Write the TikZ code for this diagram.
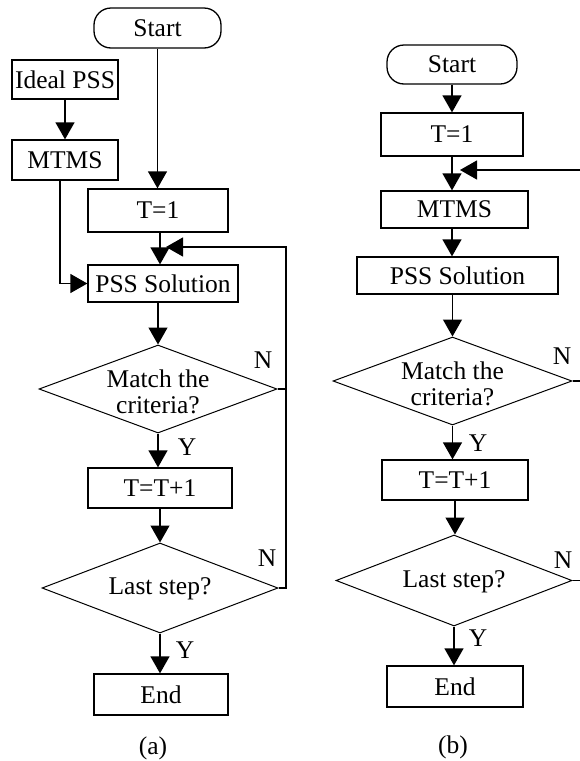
\documentclass[tikz,border=0pt]{standalone}
\usepackage{fontspec}
\setmainfont{Liberation Serif}
\usetikzlibrary{shapes.geometric,arrows.meta}

\tikzset{
  box/.style 2 args={draw, line width=1.3pt, inner sep=0pt,
    minimum width=#1, minimum height=#2},
  term/.style 2 args={box={#1}{#2}, rounded corners=17pt},
  dia/.style 2 args={diamond, draw, line width=1pt, inner sep=0pt,
    minimum width=#1, minimum height=#2},
  arr/.style={line width=1.3pt, -{Triangle[length=17pt,width=19pt]}},
  wire/.style={line width=1.3pt},
  tag/.style={inner sep=0pt, align=center},
}

\begin{document}
\begin{tikzpicture}[x=1pt, y=-1pt, font=\fontsize{25.5}{26}\selectfont]
\useasboundingbox (0,0) rectangle (579,761);

% ---------- flowchart (a) ----------
\node[term={127pt}{40pt}] (startA) at (157.5,28) {Start};
\node[box={106pt}{39pt}] (idealA) at (65,79.5) {Ideal PSS};
\node[box={106pt}{40pt}] (mtmsA)  at (65,160) {MTMS};
\node[box={140pt}{43pt}] (t1A)    at (158,210.5) {T=1};
\node[box={150pt}{37pt}] (pssA)   at (163,283.5) {PSS Solution};
\node[dia={238pt}{88pt}] (matchA) at (158,389) {};
\node[tag] at (158,392) {Match the\\criteria?};
\node[box={144pt}{40pt}] (incA)   at (160,488) {T=T+1};
\node[dia={236pt}{90pt}] (lastA)  at (160,588) {};
\node[tag] at (160,589) {Last step?};
\node[box={134pt}{41pt}] (endA)   at (161,694.5) {End};
\node[tag] (capA) at (153,748) {(a)};

\coordinate (jA)   at (166,247);
\coordinate (busA) at (286,247);

\draw[arr] (idealA.south) -- (idealA.south |- mtmsA.north);
\draw[arr] ([xshift=-5pt]mtmsA.south) |- (pssA.west);
\draw[arr] (startA.south) -- (startA.south |- t1A.north);
\draw[arr] ([xshift=2pt]t1A.south) -- ([xshift=2pt]t1A.south |- pssA.north);
\draw[arr] (matchA.north |- pssA.south) -- (matchA.north);
\draw[arr] (matchA.south) -- (matchA.south |- incA.north);
\draw[arr] (incA.south) -- (incA.south |- lastA.north);
\draw[arr] (lastA.south) -- (lastA.south |- endA.north);
\draw[wire] (matchA.east) -- (matchA.east -| busA);
\draw[arr] (lastA.east) -- (lastA.east -| busA) |- (jA);

\node[tag] at (263,360) {N};
\node[tag] at (187,447) {Y};
\node[tag] at (267,558) {N};
\node[tag] at (185,650) {Y};

% ---------- flowchart (b) ----------
\node[term={130pt}{39pt}] (startB) at (452,64.5) {Start};
\node[box={142pt}{43pt}] (t1B)    at (452,134.5) {T=1};
\node[box={147pt}{37pt}] (mtmsB)  at (454.5,209.5) {MTMS};
\node[box={201pt}{37pt}] (pssB)   at (457.5,275.5) {PSS Solution};
\node[dia={239pt}{88pt}] (matchB) at (452.5,381) {};
\node[tag] at (452.5,384) {Match the\\criteria?};
\node[box={146pt}{40pt}] (incB)   at (455,480) {T=T+1};
\node[dia={236pt}{91pt}] (lastB)  at (454,580.5) {};
\node[tag] at (454,581.5) {Last step?};
\node[box={136pt}{41pt}] (endB)   at (455,686.5) {End};
\node[tag] (capB) at (453,747) {(b)};

\coordinate (jB)   at (460,170);
\coordinate (busB) at (590,170);

\draw[arr] (startB.south) -- (startB.south |- t1B.north);
\draw[arr] (t1B.south) -- (t1B.south |- mtmsB.north);
\draw[arr] (mtmsB.south -| t1B.south) -- (t1B.south |- pssB.north);
\draw[arr] (matchB.north |- pssB.south) -- (matchB.north);
\draw[arr] (matchB.south) -- (matchB.south |- incB.north);
\draw[arr] (incB.south) -- (incB.south |- lastB.north);
\draw[arr] (lastB.south) -- (lastB.south |- endB.north);
\draw[wire] (matchB.east) -- (matchB.east -| busB);
\draw[arr] (lastB.east) -- (lastB.east -| busB) |- (jB);

\node[tag] at (562,356) {N};
\node[tag] at (478,443) {Y};
\node[tag] at (563,560) {N};
\node[tag] at (478,638) {Y};
\end{tikzpicture}
\end{document}
